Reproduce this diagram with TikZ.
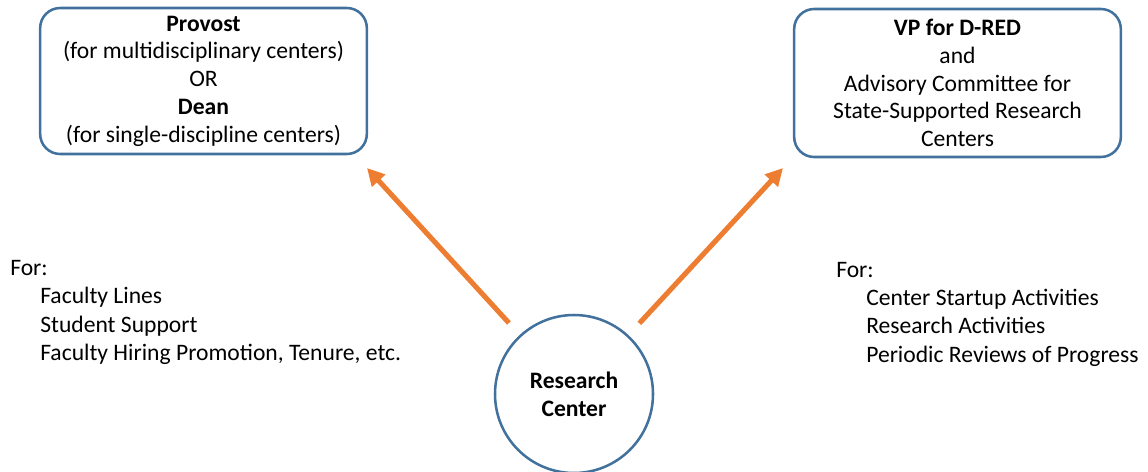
\documentclass[tikz,border=0pt]{standalone}
\usepackage{fontspec}
\setmainfont{Carlito}
\usetikzlibrary{arrows.meta}
\definecolor{boxblue}{RGB}{65,113,156}
\definecolor{flowor}{RGB}{237,125,49}

\begin{document}
\begin{tikzpicture}[x=0.75pt,y=0.75pt,yscale=-1,xscale=1,
  font=\fontsize{17.7}{20.8}\selectfont,
  dbox/.style={draw=boxblue, line width=1.9pt, rounded corners=15pt, align=center, inner sep=0pt},
  flow/.style={draw=flowor, line width=3.8pt, -{Triangle[length=13pt,width=13pt]}, shorten <=12pt},
  lst/.style={anchor=base west, inner sep=0pt}]
\useasboundingbox (0,0) rectangle (1148,471);

%Shape: Rounded Rect (left)
\node [dbox, minimum width=245pt, minimum height=109.5pt] (prov) at (203.5,81)
  {\textbf{Provost}\\(for multidisciplinary centers)\\OR\\\textbf{Dean}\\(for single-discipline centers)};
%Shape: Rounded Rect (right)
\node [dbox, minimum width=245pt, minimum height=111pt] (vpd) at (957.5,83)
  {\textbf{VP for D-RED}\\and\\Advisory Committee for\\State-Supported Research\\Centers};
%Shape: Circle
\node [draw=boxblue, line width=1.9pt, circle, minimum size=118.5pt, align=center, inner sep=0pt,
  font=\fontsize{17.7}{20.8}\selectfont\bfseries] (rc) at (574,394) {Research\\Center};

\coordinate (provtip) at (367,168);
\coordinate (vpdtip) at (783,168);
% Arrows
\draw [flow] (rc) -- (provtip);
\draw [flow] (rc) -- (vpdtip);

% Text Node
\node [lst] (lfor) at (10,275) {For:};
\node [lst] (lfac) at (40,303) {Faculty Lines};
\node [lst] (lstu) at (40,332) {Student Support};
\node [lst] (lhir) at (40,360) {Faculty Hiring Promotion, Tenure, etc.};
% Text Node
\node [lst] (rfor) at (836,277) {For:};
\node [lst] (rsta) at (866,305) {Center Startup Activities};
\node [lst] (rres) at (866,333) {Research Activities};
\node [lst] (rper) at (866,362) {Periodic Reviews of Progress};

\end{tikzpicture}
\end{document}
